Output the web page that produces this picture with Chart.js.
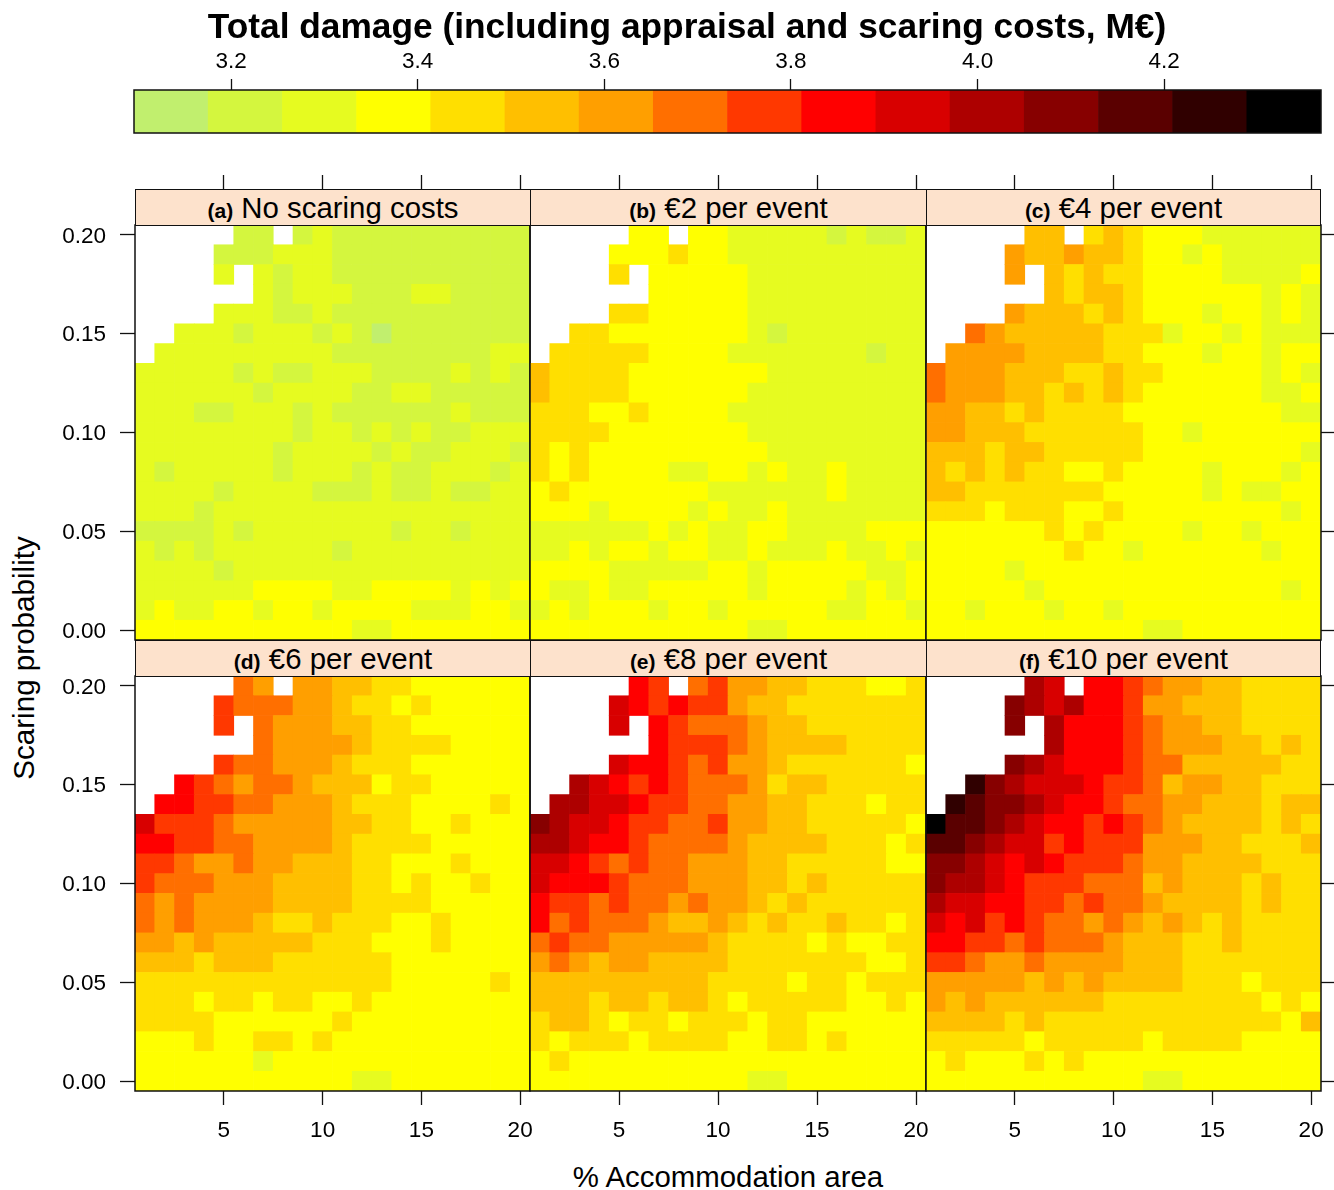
<!DOCTYPE html>
<html lang="en">

<head>
  <meta charset="UTF-8">
  <title>Total damage</title>
  <script src="https://cdn.jsdelivr.net/npm/chart.js"></script>
  <style>
    body {
      margin: 0;
      width: 1334px;
      height: 1190px;
      position: relative;
      overflow: hidden;
      background: #fff;
      font-family: 'Liberation Sans', Arial, sans-serif;
      color: #000;
    }

    canvas {
      position: absolute;
    }

    .title {
      position: absolute;
      left: 0;
      width: 1374px;
      top: 6px;
      text-align: center;
      font-size: 35.3px;
      font-weight: bold;
      line-height: 40px;
    }

    .strip {
      position: absolute;
      box-sizing: border-box;
      height: 37px;
      background: #fde2cc;
      border: 1.5px solid #111;
      text-align: center;
      font-size: 29.4px;
      line-height: 35px;
      white-space: nowrap;
    }

    .strip b {
      font-size: 21px;
    }

    .xlabel {
      position: absolute;
      left: 135px;
      width: 1186px;
      top: 1160px;
      text-align: center;
      font-size: 29.4px;
      line-height: 34px;
    }

    .ylabel {
      position: absolute;
      left: 24px;
      top: 658px;
      font-size: 29.6px;
      line-height: 34px;
      white-space: nowrap;
      transform: translate(-50%, -50%) rotate(-90deg);
    }
  </style>
</head>

<body>
  <canvas id="colorbar" width="1334" height="140" style="left:0;top:0"></canvas>

  <canvas id="panelA"></canvas>
  <canvas id="panelB"></canvas>
  <canvas id="panelC"></canvas>
  <canvas id="panelD"></canvas>
  <canvas id="panelE"></canvas>
  <canvas id="panelF"></canvas>

  <div class="title">Total damage (including appraisal and scaring costs, M€)</div>
  <div class="strip" style="left:135px;width:396px;top:189px"><b>(a)</b> No scaring costs</div>
  <div class="strip" style="left:530px;width:397px;top:189px"><b>(b)</b> €2 per event</div>
  <div class="strip" style="left:926px;width:395px;top:189px"><b>(c)</b> €4 per event</div>
  <div class="strip" style="left:135px;width:396px;top:640px"><b>(d)</b> €6 per event</div>
  <div class="strip" style="left:530px;width:397px;top:640px"><b>(e)</b> €8 per event</div>
  <div class="strip" style="left:926px;width:395px;top:640px"><b>(f)</b> €10 per event</div>
  <div class="xlabel">% Accommodation area</div>
  <div class="ylabel">Scaring probability</div>

  <script>
    // colour bands of the key, lowest first
    const levelBreaks = [3.096, 3.1755, 3.255, 3.3345, 3.414, 3.4935, 3.573, 3.6525, 3.732, 3.8115, 3.891, 3.9705, 4.05, 4.1295, 4.209, 4.2885, 4.368];
    const levelColors = ['#c1ef6e', '#d4f63e', '#e6fb20', '#ffff00', '#ffdf00', '#ffbf00', '#ff9f00', '#ff6f00',
      '#ff3800', '#ff0000', '#d80000', '#ad0000', '#870000', '#5a0000', '#300000', '#000000'];
    const keyTicks = [3.2, 3.4, 3.6, 3.8, 4.0, 4.2];

    const areaTicks = [5, 10, 15, 20];
    const probTicks = [0, 0.05, 0.10, 0.15, 0.20];
    const areas = [1, 2, 3, 4, 5, 6, 7, 8, 9, 10, 11, 12, 13, 14, 15, 16, 17, 18, 19, 20];
    const probs = [0.20, 0.19, 0.18, 0.17, 0.16, 0.15, 0.14, 0.13, 0.12, 0.11, 0.10, 0.09, 0.08, 0.07, 0.06, 0.05, 0.04, 0.03, 0.02, 0.01, 0.00];

    // one string per probability, one character per area: colour band in hex, '.' = no result
    const noCosts = [
      '.....11.121111111111',
      '....1112221111111111',
      '....2.21221111111111',
      '......21222111221111',
      '....2221121111111111',
      '..222122212101111111',
      '.2222222221111111122',
      '22222121122211112121',
      '22222212222112211111',
      '22211222121111112111',
      '22222222122121211222',
      '22222221222212112221',
      '21222221222121122212',
      '22221222211121121122',
      '22212222222222222222',
      '11112122222221221222',
      '21212222221222222222',
      '22221222222222222222',
      '22222233332233332323',
      '23223323323333222332',
      '33333333333223333333'
    ];
    const cost2 = [
      '.....33.332222212112',
      '....3334332222222222',
      '....4.33333222222222',
      '......33333222222222',
      '....4433333222222222',
      '..443333333212222222',
      '.4444433332222222122',
      '54444333333322222222',
      '54444333333222222222',
      '44433433332222222222',
      '44443333333222222222',
      '43433333333322222222',
      '43433332233232232222',
      '34333333322222232222',
      '33323333232232222222',
      '22222232322332222333',
      '22323323322322232232',
      '33332222233233333223',
      '32232233333233332323',
      '23233323323333322332',
      '33333333333223333333'
    ];
    const cost4 = [
      '.....55.454333222222',
      '....6556554332322222',
      '....6.54544333322223',
      '......54554333333232',
      '....6555454333233232',
      '..765555544423323222',
      '.6666555544333233233',
      '76665554454433333232',
      '76665545454333333223',
      '66554544443333333322',
      '66555444444332333333',
      '55545544444333333332',
      '54545443343333233323',
      '55444444433333232233',
      '44434443343333333323',
      '33333343433332332333',
      '33333334332333333233',
      '33332333333333333333',
      '33333233333333333323',
      '33233323323333333333',
      '33333333333223333333'
    ];
    const cost6 = [
      '.....76.665544333333',
      '....8777665443433333',
      '....8.76665544333333',
      '......76666544443333',
      '....8776665444333333',
      '..987677655534433333',
      '.9988776665444333343',
      'a8887666665544334333',
      '99887766665444433333',
      '88766766555443334333',
      '87776665555443433433',
      '76766665555444433333',
      '76766654454443343333',
      '66565555544433343333',
      '55545554444443333333',
      '44444444444443333343',
      '44434434433433333333',
      '44443333334333333333',
      '33343344343333333333',
      '33333323333333333333',
      '33333333333223333333'
    ];
    const cost8 = [
      '.....98.786655444334',
      '....a989886554444444',
      '....a.98777655444444',
      '......98887655554444',
      '....a998786654444443',
      '..ba9898777645544444',
      '.bbaa988776655444344',
      'cbaa9887786655444443',
      'bba99877776555544434',
      'aa987877666554444433',
      'a9998777666554544444',
      '98878776766545444444',
      '97877765565454454434',
      '78776666654444343344',
      '67656655554444444334',
      '55555555544443443444',
      '55545545543444443343',
      '45543443444344333333',
      '43444344443344343333',
      '34333333333333333333',
      '33333333333223333333'
    ];
    const cost10 = [
      '.....ba.998766554444',
      '....cbab998665554444',
      '....c.b9998766554444',
      '......b9998766655454',
      '....cba9998775555544',
      '..ecbaaa988756655444',
      '.edccba9987766555455',
      'fddcba99898765555454',
      'ddcbaa89888666554445',
      'ccba9a98887665555444',
      'cbba9888777565554544',
      'baa99887877655554544',
      'a9a89877676565454444',
      '99887877765554454444',
      '88766766665554444444',
      '66666565655554443444',
      '65655555544444444343',
      '55554544444444444435',
      '44444344444344443333',
      '34333434333333333333',
      '33333333333223333333'
    ];

    const tickFont = { family: "'Liberation Sans', Arial, sans-serif", size: 22.5 };

    const framePlugin = {
      id: 'frame',
      afterDatasetsDraw(chart) {
        const { ctx, chartArea: a } = chart;
        ctx.save();
        ctx.strokeStyle = '#111';
        ctx.lineWidth = 1.5;
        ctx.strokeRect(a.left, a.top, a.right - a.left, a.bottom - a.top);
        ctx.restore();
      }
    };

    function cellsFrom(rows) {
      const cells = [];
      rows.forEach((row, r) => {
        areas.forEach((area, c) => {
          if (row[c] === '.') return;
          cells.push({
            x: area,
            y: [probs[r] - 0.005, probs[r] + 0.005],
            level: parseInt(row[c], 16)
          });
        });
      });
      return cells;
    }

    function fixedTicks(values) {
      return axis => { axis.ticks = values.map(value => ({ value })); };
    }

    function drawPanel(id, rows, left, top, width, sides) {
      const m = { left: 75, top: 60, right: 13, bottom: 60 };
      const height = 415;
      const canvas = document.getElementById(id);
      canvas.width = m.left + width + m.right;
      canvas.height = m.top + height + m.bottom;
      canvas.style.left = (left - m.left) + 'px';
      canvas.style.top = (top - m.top) + 'px';

      const tickGrid = length => ({
        drawOnChartArea: false,
        drawTicks: true,
        tickLength: length,
        tickColor: '#111',
        tickWidth: 1.3,
        offset: false
      });

      const scales = {
        x: {
          type: 'linear',
          min: 0.5,
          max: 20.5,
          offset: false,
          position: 'bottom',
          afterBuildTicks: fixedTicks(areaTicks),
          // the "20" label may hang over the edge, the plot must not shrink for it
          afterFit: s => { s.height = m.bottom; s.paddingLeft = 0; s.paddingRight = 0; },
          border: { display: false },
          grid: sides.bottom ? tickGrid(14) : { display: false, offset: false },
          ticks: { display: !!sides.bottom, font: tickFont, color: '#000', padding: 12, maxRotation: 0, autoSkip: false }
        },
        y: {
          type: 'linear',
          min: -0.005,
          max: 0.205,
          position: 'left',
          afterBuildTicks: fixedTicks(probTicks),
          afterFit: s => { s.width = m.left; },
          border: { display: false },
          grid: sides.left ? tickGrid(15) : { display: false },
          ticks: {
            display: !!sides.left,
            font: tickFont,
            color: '#000',
            padding: 14,
            labelOffset: 1.5,
            autoSkip: false,
            callback: v => v.toFixed(2)
          }
        }
      };
      // the tick runs on under the strip, which hides its lower part
      if (sides.top) {
        scales.xTop = {
          type: 'linear',
          axis: 'x',
          position: 'top',
          min: 0.5,
          max: 20.5,
          offset: false,
          afterBuildTicks: fixedTicks(areaTicks),
          afterFit: s => { s.height = m.top; },
          border: { display: false },
          grid: tickGrid(50),
          ticks: { display: false }
        };
      }
      if (sides.right) {
        scales.yRight = {
          type: 'linear',
          axis: 'y',
          position: 'right',
          min: -0.005,
          max: 0.205,
          afterBuildTicks: fixedTicks(probTicks),
          afterFit: s => { s.width = m.right; },
          border: { display: false },
          grid: tickGrid(13),
          ticks: { display: false }
        };
      }

      new Chart(canvas, {
        type: 'bar',
        data: {
          datasets: [{
            data: cellsFrom(rows),
            backgroundColor: c => c.raw ? levelColors[c.raw.level] : '#fff',
            borderWidth: 0,
            categoryPercentage: 1,
            barPercentage: 1
          }]
        },
        options: {
          responsive: false,
          animation: false,
          layout: {
            padding: {
              left: 0,
              top: sides.top ? 0 : m.top,
              right: sides.right ? 0 : m.right,
              bottom: 0
            }
          },
          plugins: { legend: { display: false }, tooltip: { enabled: false } },
          scales: scales
        },
        plugins: [framePlugin]
      });
    }

    // colour key
    new Chart(document.getElementById('colorbar'), {
      type: 'bar',
      data: {
        datasets: [{
          data: levelColors.map((col, i) => ({ x: [levelBreaks[i], levelBreaks[i + 1]], y: 0 })),
          backgroundColor: levelColors,
          borderWidth: 0,
          categoryPercentage: 1,
          barPercentage: 1
        }]
      },
      options: {
        indexAxis: 'y',
        responsive: false,
        animation: false,
        layout: { padding: { left: 134, right: 13, top: 0, bottom: 7 } },
        plugins: { legend: { display: false }, tooltip: { enabled: false } },
        scales: {
          x: {
            type: 'linear',
            position: 'top',
            min: levelBreaks[0],
            max: levelBreaks[levelBreaks.length - 1],
            afterBuildTicks: fixedTicks(keyTicks),
            afterFit: s => { s.height = 90; },
            border: { display: false },
            grid: { drawOnChartArea: false, drawTicks: true, tickLength: 11, tickColor: '#111', tickWidth: 1.3 },
            ticks: { font: tickFont, color: '#000', padding: 4, maxRotation: 0, autoSkip: false, callback: v => v.toFixed(1) }
          },
          y: {
            type: 'linear',
            display: false,
            min: -0.5,
            max: 0.5,
            offset: false,
            afterBuildTicks: fixedTicks([0])
          }
        }
      },
      plugins: [framePlugin]
    });

    drawPanel('panelA', noCosts, 135, 225, 395, { left: true, top: true });
    drawPanel('panelB', cost2, 530, 225, 396, { top: true });
    drawPanel('panelC', cost4, 926, 225, 395, { top: true, right: true });
    drawPanel('panelD', cost6, 135, 676, 395, { left: true, bottom: true });
    drawPanel('panelE', cost8, 530, 676, 396, { bottom: true });
    drawPanel('panelF', cost10, 926, 676, 395, { bottom: true, right: true });
  </script>
</body>

</html>
